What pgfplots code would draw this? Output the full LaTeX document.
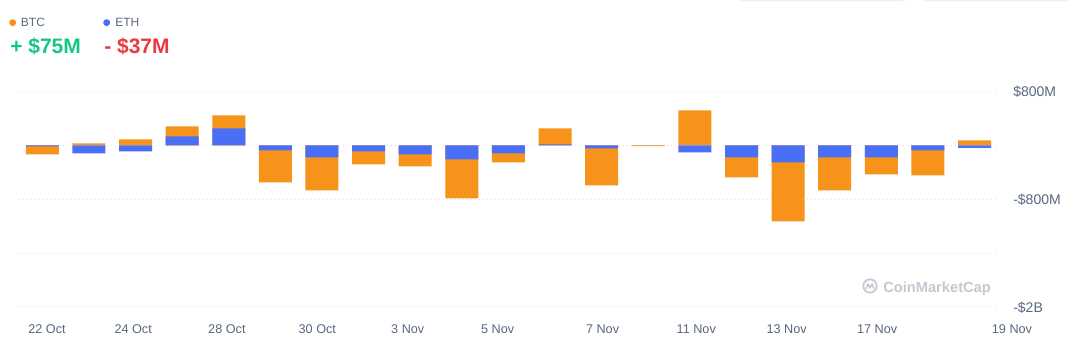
\documentclass[border=0pt]{standalone}
\usepackage{pgfplots}
\pgfplotsset{compat=1.18}
\usepackage{pgfplotstable}
\usepackage{fontspec}
\setmainfont{Liberation Sans}
\definecolor{btc}{HTML}{F7931A}
\definecolor{eth}{HTML}{4A6FF7}
\definecolor{tickc}{HTML}{58667E}
\definecolor{gridc}{HTML}{DCDFE4}
\definecolor{upg}{HTML}{16C784}
\definecolor{downr}{HTML}{EA3943}
\definecolor{wm}{HTML}{C3C8D1}
\definecolor{boxg}{HTML}{EEF1F6}

% daily net flows, million USD
\pgfplotstableread{
idx btc eth
0 -120 -15
1 30 -119
2 89 -89
3 148 134
4 193 252
5 -475 -74
6 -490 -178
7 -193 -89
8 -178 -134
9 -579 -208
10 -134 -119
11 237 15
12 -549 -45
13 -12 0
14 519 -104
15 -297 -178
16 -875 -252
17 -490 -178
18 -252 -178
19 -371 -74
20 75 -37
}\flows

\begin{document}
\begin{tikzpicture}
\path[use as bounding box] (0,0) rectangle (808.5pt,267pt);
\clip (0,0) rectangle (808.5pt,267pt);
\fill[boxg, rounded corners=3pt] (553.5pt,266pt) rectangle (680.25pt,280pt);
\fill[boxg, rounded corners=3pt] (690.75pt,266pt) rectangle (802.5pt,280pt);
\begin{axis}[
  at={(14.25pt,36.75pt)}, anchor=south west,
  scale only axis, width=732.75pt, height=161.625pt,
  xmin=-0.5, xmax=20.46, ymin=-2400, ymax=800,
  axis line style={draw=none}, major tick length=0pt,
  ybar, bar width=0.708,
  every axis plot/.append style={bar shift=0pt, draw=none},
  xtick={0.10,1.95,3.96,5.90,7.84,9.77,12.02,14.03,15.97,17.91},
  xticklabels={22 Oct,24 Oct,28 Oct,30 Oct,3 Nov,5 Nov,7 Nov,11 Nov,13 Nov,17 Nov},
  xticklabel style={anchor=base, yshift=-19.85pt, inner sep=0pt, text=tickc, font=\fontsize{9.5}{11}\selectfont},
  ytick={-2400,-1600,-800,0,800},
  yticklabels={-\$2B,,-\$800M,,\$800M},
  yticklabel pos=right,
  yticklabel style={anchor=base west, inner sep=0pt, xshift=12.75pt, yshift=-3.76pt, text=tickc, font=\fontsize{10.5}{12}\selectfont},
  ymajorgrids,
  grid style={gridc, line width=0.75pt, dash pattern=on 0.75pt off 2.25pt},
]
\addplot[fill=btc] table[x=idx, y expr={((\thisrow{btc}>0)==(\thisrow{eth}>0)) ? \thisrow{btc}+\thisrow{eth} : \thisrow{btc}}] {\flows};
\addplot[fill=eth] table[x=idx, y=eth] {\flows};
\end{axis}
\node[anchor=base, inner sep=0pt, text=tickc, font=\fontsize{9.5}{11}\selectfont] at (759pt,16.9pt) {19 Nov};
% header
\fill[btc] (9.5pt,250pt) circle (2.6pt);
\node[anchor=base west, inner sep=0pt, text=tickc, font=\fontsize{9}{10}\selectfont] at (15.5pt,246.75pt) {BTC};
\fill[eth] (80pt,250pt) circle (2.6pt);
\node[anchor=base west, inner sep=0pt, text=tickc, font=\fontsize{9}{10}\selectfont] at (86.25pt,246.75pt) {ETH};
\node[anchor=base west, inner sep=0pt, text=upg, font=\fontsize{15.75}{18}\selectfont\bfseries] at (7.5pt,226.5pt) {+ \$75M};
\node[anchor=base west, inner sep=0pt, text=downr, font=\fontsize{15.75}{18}\selectfont\bfseries] at (78pt,226.5pt) {- \$37M};
% watermark
\draw[wm, line width=1.3pt] (652.5pt,52.5pt) circle (5pt);
\draw[wm, line width=1.1pt, line join=round, line cap=round] (649.7pt,50.6pt) -- (650.9pt,54.1pt) -- (652.5pt,51pt) -- (654.1pt,54.1pt) -- (655.3pt,50.6pt);
\node[anchor=base west, inner sep=0pt, text=wm, font=\fontsize{11}{13}\selectfont\bfseries] at (662.25pt,47.8pt) {CoinMarketCap};
\end{tikzpicture}
\end{document}
